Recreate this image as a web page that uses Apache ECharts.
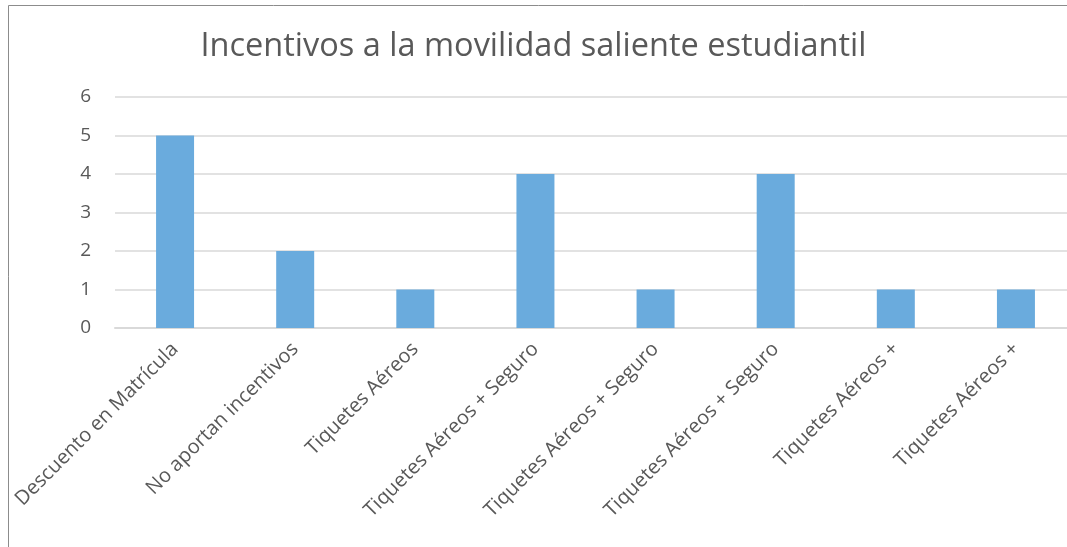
<!DOCTYPE html>
<html>
<head>
<meta charset="utf-8">
<script src="https://cdn.jsdelivr.net/npm/echarts@6/dist/echarts.min.js"></script>
<style>
  html, body { margin: 0; padding: 0; background: #fff; }
  #chart { width: 1067px; height: 547px; }
</style>
</head>
<body>
<div id="chart"></div>
<script>
// datos
const categories = [
  'Descuento en Matrícula',
  'No aportan incentivos',
  'Tiquetes Aéreos',
  'Tiquetes Aéreos + Seguro',
  'Tiquetes Aéreos + Seguro',
  'Tiquetes Aéreos + Seguro',
  'Tiquetes Aéreos +',
  'Tiquetes Aéreos +'
]
const values = [5, 2, 1, 4, 1, 4, 1, 1]
const yTicks = [0, 1, 2, 3, 4, 5, 6]

const font = '"Open Sans", "Liberation Sans", sans-serif'
const chart = echarts.init(document.getElementById('chart'), null, { renderer: 'canvas' })

chart.setOption({
  animation: false,
  textStyle: { fontFamily: font },
  title: {
    text: 'Incentivos a la movilidad saliente estudiantil',
    left: 'center',
    top: 25,
    textStyle: { fontFamily: font, fontWeight: 'normal', fontSize: 32.5, color: '#595959' }
  },
  graphic: [
    {
      type: 'rect',
      shape: { x: 8.5, y: 5.5, width: 1100, height: 600 },
      style: { fill: 'none', stroke: '#8c8c8c', lineWidth: 1 },
      silent: true
    }
  ],
  grid: { left: 115, top: 97, width: 961, height: 231, outerBoundsMode: 'none' },
  xAxis: {
    type: 'category',
    data: categories,
    axisLine: { show: true, lineStyle: { color: '#d9d9d9', width: 2 } },
    axisTick: { show: false },
    axisLabel: {
      interval: 0,
      rotate: 45,
      margin: 18,
      fontSize: 20,
      color: '#595959',
      fontFamily: font
    }
  },
  yAxis: {
    type: 'value',
    min: yTicks[0],
    max: yTicks[yTicks.length - 1],
    interval: 1,
    axisLine: { show: false },
    axisTick: { show: false },
    axisLabel: { fontSize: 19, color: '#595959', margin: 24, fontFamily: font },
    splitLine: { lineStyle: { color: '#d9d9d9', width: 1.5 } }
  },
  series: [
    {
      type: 'bar',
      data: values,
      barWidth: 38,
      itemStyle: { color: '#6aabdd' }
    }
  ]
})
</script>
</body>
</html>
